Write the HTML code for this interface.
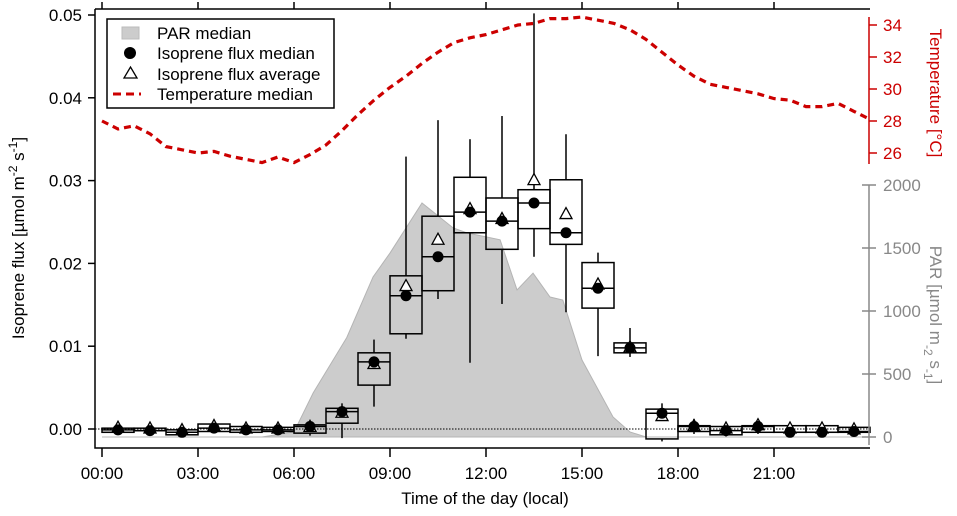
<!DOCTYPE html>
<html><head><meta charset="utf-8"><style>
html,body{margin:0;padding:0;background:#fff}
svg{display:block;font-family:"Liberation Sans",Arial,sans-serif}
</style></head><body>
<svg id="chart" width="957" height="516" viewBox="0 0 957 516"></svg>
<script>
const hours = [0.5,1.5,2.5,3.5,4.5,5.5,6.5,7.5,8.5,9.5,10.5,11.5,12.5,13.5,14.5,15.5,16.5,17.5,18.5,19.5,20.5,21.5,22.5,23.5];
const fluxMedian = [-0.0001,-0.0002,-0.0004,0.0001,-0.0001,-0.0001,0.0003,0.0021,0.0081,0.0161,0.0208,0.0262,0.0251,0.0273,0.0237,0.0170,0.0098,0.0019,0.0003,-0.0002,0.0003,-0.0004,-0.0004,-0.0003];
const fluxAverage = [0.0001,0.0,-0.0002,0.0003,0.0,0.0,0.0002,0.0019,0.0078,0.0172,0.0228,0.0265,0.0253,0.0300,0.0259,0.0174,0.0098,0.0015,0.0003,0.0,0.0004,0.0,0.0,-0.0001];
const boxQ1 = [-0.0004,-0.0002,-0.0007,-0.0003,-0.0004,-0.0003,-0.0005,0.0007,0.0053,0.0115,0.0167,0.0237,0.0217,0.0242,0.0223,0.0146,0.0092,-0.0012,-0.0003,-0.0007,-0.0004,-0.0004,-0.0004,-0.0004];
const boxQ3 = [0.0001,0.0001,-0.0001,0.0006,0.0003,0.0002,0.0005,0.0025,0.0092,0.0185,0.0257,0.0304,0.0279,0.0289,0.0301,0.0201,0.0104,0.0024,0.0004,0.0003,0.0004,0.0004,0.0004,0.0002];
const whiskerLow = [-0.0006,-0.0004,-0.0009,-0.0005,-0.0006,-0.0005,-0.0008,-0.0011,0.0027,0.0109,0.0157,0.0080,0.0151,0.0208,0.0141,0.0088,0.0087,-0.0015,-0.0006,-0.0009,-0.0006,-0.0006,-0.0006,-0.0006];
const whiskerHigh = [0.0004,0.0003,0.0001,0.0008,0.0005,0.0004,0.0010,0.0031,0.0108,0.0329,0.0373,0.0350,0.0378,0.0502,0.0356,0.0213,0.0122,0.0031,0.0012,0.0006,0.0006,0.0006,0.0006,0.0004];
const parHours = [0,5,6,6.6,7.65,8.47,9.0,10.0,10.97,11.4,12.44,12.97,13.47,14.0,14.4,15.0,15.97,16.5,17.0,24];
const parValues = [0,0,40,350,790,1270,1460,1857,1660,1620,1565,1167,1300,1111,1087,611,159,40,0,0];
const tempHours = [0,0.5,1,1.5,2,2.5,3,3.5,4,4.5,5,5.5,6,6.5,7,7.5,8,8.5,9,9.5,10,10.5,11,11.5,12,12.5,13,13.5,14,14.5,15,15.5,16,16.5,17,17.5,18,18.5,19,19.5,20,20.5,21,21.5,22,22.5,23,23.5,24];
const tempValues = [28.0,27.5,27.7,27.2,26.4,26.2,26.0,26.1,25.8,25.6,25.4,25.75,25.4,25.9,26.5,27.4,28.4,29.3,30.1,30.8,31.6,32.3,32.9,33.2,33.4,33.7,34.0,34.1,34.4,34.4,34.5,34.3,34.1,33.7,33.1,32.3,31.5,30.8,30.3,30.1,29.9,29.7,29.4,29.3,28.9,28.9,29.1,28.6,28.1];
const xTicks = ["00:00","03:00","06:00","09:00","12:00","15:00","18:00","21:00"];
const yTicks = [0,0.01,0.02,0.03,0.04,0.05];
const yTickLabels = ["0.00","0.01","0.02","0.03","0.04","0.05"];
const tTicks = [26,28,30,32,34];
const pTicks = [0,500,1000,1500,2000];

const X = h => 102 + h*32;
const Y = v => 429 - v*8280;
const TY = t => 25 + (34-t)*16;
const PY = p => 437 - p*0.126;
const svg = document.getElementById('chart');
const NS = 'http://www.w3.org/2000/svg';
function mk(tag, attrs, parent){const e=document.createElementNS(NS,tag);for(const k in attrs)e.setAttribute(k,attrs[k]);(parent||svg).appendChild(e);return e;}

let d = 'M'+X(parHours[0])+','+PY(0);
parHours.forEach((h,i)=>{d+=' L'+X(h)+','+PY(parValues[i]);});
d+=' L'+X(parHours[parHours.length-1])+','+PY(0)+' Z';
const par = mk('path',{d:d,fill:'#cccccc',stroke:'#b4b4b4','stroke-width':1});



const zl = mk('line',{x1:95,x2:869,y1:Y(0),y2:Y(0),stroke:'#000','stroke-width':1,'stroke-dasharray':'1.5,1.5'});



hours.forEach((h,i)=>{
  const g = mk('g',{});
  
  
  const cx = X(h);
  mk('line',{x1:cx,x2:cx,y1:Y(whiskerHigh[i]),y2:Y(boxQ3[i]),stroke:'#000','stroke-width':1.5},g);
  mk('line',{x1:cx,x2:cx,y1:Y(boxQ1[i]),y2:Y(whiskerLow[i]),stroke:'#000','stroke-width':1.5},g);
  mk('rect',{x:cx-16,y:Y(boxQ3[i]),width:32,height:Math.max(1,Y(boxQ1[i])-Y(boxQ3[i])),fill:'none',stroke:'#000','stroke-width':1.5},g);
  mk('line',{x1:cx-16,x2:cx+16,y1:Y(fluxMedian[i]),y2:Y(fluxMedian[i]),stroke:'#000','stroke-width':1.5},g);
  const ay = Y(fluxAverage[i]);
  mk('path',{d:`M${cx-6},${ay+4} L${cx+6},${ay+4} L${cx},${ay-7} Z`,fill:'#fff',stroke:'#000','stroke-width':1.3},g);
  mk('circle',{cx:cx,cy:Y(fluxMedian[i]),r:5.5,fill:'#000'},g);
});

let td='';
tempHours.forEach((h,i)=>{td+=(i?' L':'M')+X(h)+','+TY(tempValues[i]);});
const tl = mk('path',{d:td,fill:'none',stroke:'#cc0000','stroke-width':3.2,'stroke-dasharray':'7,5'});



const fr = mk('path',{d:'M95,9 L870,9 M95,9 L95,448 L870,448',fill:'none',stroke:'#000','stroke-width':1.5});



xTicks.forEach((t,i)=>{
  const x = X(i*3);
  mk('line',{x1:x,x2:x,y1:448,y2:457,stroke:'#000','stroke-width':1.5});
  mk('line',{x1:x,x2:x,y1:9,y2:2,stroke:'#000','stroke-width':1.5});
  const tx = mk('text',{x:x,y:479,'text-anchor':'middle','font-size':17});
  tx.textContent=t;
  
  
});
yTicks.forEach((v,i)=>{
  mk('line',{x1:88,x2:95,y1:Y(v),y2:Y(v),stroke:'#000','stroke-width':1.5});
  const tx = mk('text',{x:82,y:Y(v)+6,'text-anchor':'end','font-size':17});
  tx.textContent=yTickLabels[i];
  
  
});
mk('line',{x1:869,x2:869,y1:17,y2:164,stroke:'#cc0000','stroke-width':1.5});
tTicks.forEach(t=>{
  mk('line',{x1:869,x2:877,y1:TY(t),y2:TY(t),stroke:'#cc0000','stroke-width':1.5});
  const tx = mk('text',{x:883,y:TY(t)+6,'font-size':17,fill:'#cc0000'});
  tx.textContent=t;
  
  
});
mk('line',{x1:869,x2:869,y1:185,y2:445,stroke:'#888','stroke-width':1.5});
pTicks.forEach(p=>{
  mk('line',{x1:862,x2:876,y1:PY(p),y2:PY(p),stroke:'#888','stroke-width':1.5});
  const tx = mk('text',{x:883,y:PY(p)+6,'font-size':17,fill:'#888'});
  tx.textContent=p;
  
  
});
</script>
<svg style="position:absolute;left:0;top:0" width="957" height="516">
  <text transform="translate(24,238) rotate(-90)" text-anchor="middle" font-size="17" font-family="Liberation Sans, sans-serif">Isoprene flux [µmol m<tspan dy="-7" font-size="12">-2</tspan><tspan dy="7"> s</tspan><tspan dy="-7" font-size="12">-1</tspan><tspan dy="7">]</tspan></text>
  <text x="485" y="504" text-anchor="middle" font-size="17" font-family="Liberation Sans, sans-serif">Time of the day (local)</text>
  <text transform="translate(930,93) rotate(90)" text-anchor="middle" font-size="17" fill="#cc0000" font-family="Liberation Sans, sans-serif">Temperature [°C]</text>
  <text transform="translate(930,315) rotate(90)" text-anchor="middle" font-size="17" fill="#888" font-family="Liberation Sans, sans-serif">PAR [µmol m<tspan dy="6" font-size="12">-2</tspan><tspan dy="-6"> s</tspan><tspan dy="6" font-size="12">-1</tspan><tspan dy="-6">]</tspan></text>
  <g font-family="Liberation Sans, sans-serif" font-size="17">
    <rect x="107" y="19" width="227" height="89" fill="#fff" stroke="#000" stroke-width="1.5"/>
    <rect x="122" y="27" width="17" height="12" fill="#ccc" stroke="#bbb"/>
    <text x="157" y="39">PAR median</text>
    <circle cx="130" cy="53" r="6" fill="#000"/>
    <text x="157" y="59">Isoprene flux median</text>
    <path d="M124,78 L137,78 L130.5,67 Z" fill="#fff" stroke="#000" stroke-width="1.3"/>
    <text x="157" y="80">Isoprene flux average</text>
    <line x1="113" y1="94" x2="141" y2="94" stroke="#cc0000" stroke-width="3" stroke-dasharray="8,5"/>
    <text x="157" y="100">Temperature median</text>
  </g>
</svg>
</body></html>
